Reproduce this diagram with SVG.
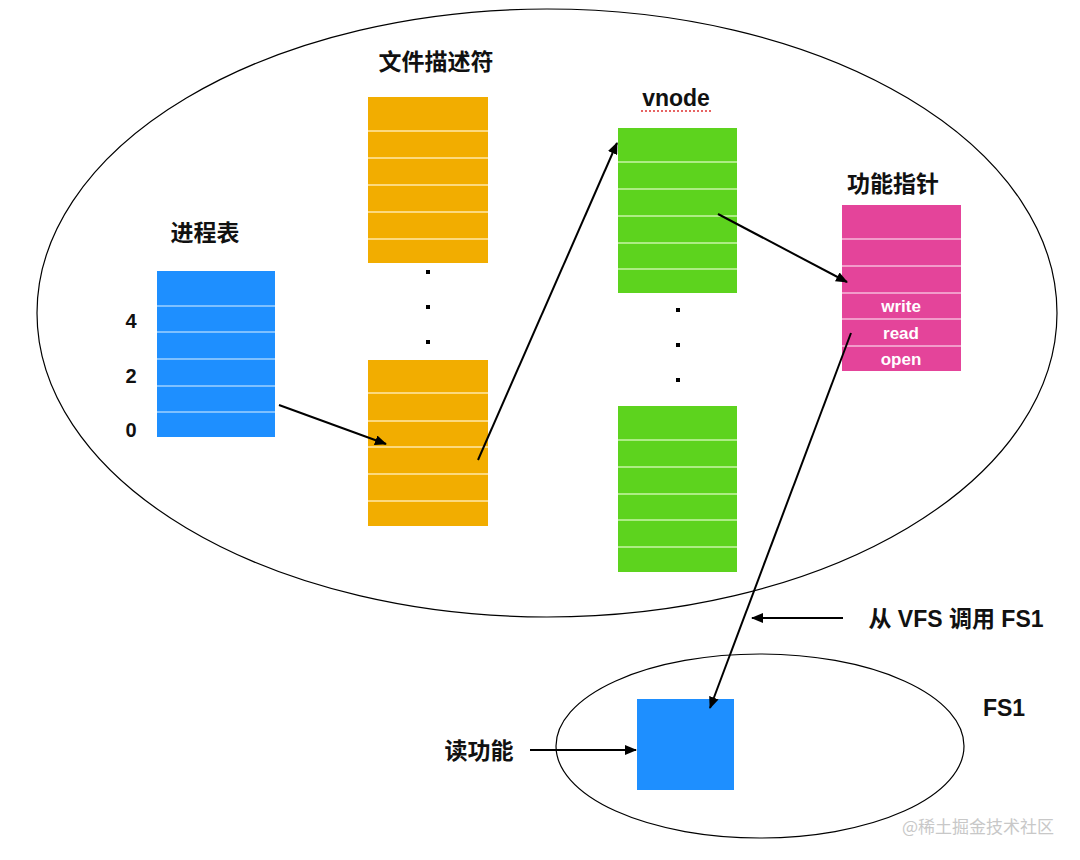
<svg xmlns="http://www.w3.org/2000/svg" width="1080" height="860" viewBox="0 0 1080 860">
<style>
.t{font-family:"Liberation Sans","Noto Sans CJK SC",sans-serif;font-weight:bold;fill:#111;}
.cn{font-size:23px;}
.num{font-size:20px;}
.w{font-family:"Liberation Sans",sans-serif;font-weight:bold;font-size:17px;fill:#fff;}
.sep{stroke-width:1.5;}
.c{stroke:#000;stroke-width:2;fill:none;}
</style>
<defs>
<marker id="ah" viewBox="0 0 12 10" refX="11" refY="5" markerWidth="12" markerHeight="10" markerUnits="userSpaceOnUse" orient="auto">
<path d="M0,0 L12,5 L0,10 Z" fill="#000"/>
</marker>
</defs>
<rect width="1080" height="860" fill="#fff"/>
<g id="outer">
<ellipse cx="547" cy="313" rx="510" ry="304" fill="none" stroke="#000" stroke-width="1.2"/>
</g>
<g id="fs1-ellipse">
<ellipse cx="760" cy="746" rx="204" ry="92" fill="none" stroke="#000" stroke-width="1.2"/>
</g>
<g id="process-table">
<text class="t cn" x="205" y="241" text-anchor="middle">进程表</text>
<rect x="157" y="271" width="118" height="166" fill="#1E8FFF"/>
<g stroke="#9fd0ff" class="sep">
<line x1="157" y1="306" x2="275" y2="306"/><line x1="157" y1="332" x2="275" y2="332"/>
<line x1="157" y1="359" x2="275" y2="359"/><line x1="157" y1="386" x2="275" y2="386"/>
<line x1="157" y1="412" x2="275" y2="412"/>
</g>
<text class="t num" x="131" y="328" text-anchor="middle">4</text>
<text class="t num" x="131" y="383" text-anchor="middle">2</text>
<text class="t num" x="131" y="437" text-anchor="middle">0</text>
</g>
<g id="fd-table">
<text class="t cn" x="436" y="70" text-anchor="middle">文件描述符</text>
<rect x="368" y="97" width="120" height="166" fill="#F2AD00"/>
<g stroke="#ffe9a8" class="sep">
<line x1="368" y1="131" x2="488" y2="131"/><line x1="368" y1="158" x2="488" y2="158"/>
<line x1="368" y1="185" x2="488" y2="185"/><line x1="368" y1="212" x2="488" y2="212"/>
<line x1="368" y1="239" x2="488" y2="239"/>
</g>
<g fill="#000">
<rect x="426" y="270" width="4" height="4"/><rect x="426" y="305" width="4" height="4"/><rect x="426" y="340" width="4" height="4"/>
</g>
<rect x="368" y="360" width="120" height="166" fill="#F2AD00"/>
<g stroke="#ffe9a8" class="sep">
<line x1="368" y1="393" x2="488" y2="393"/><line x1="368" y1="421" x2="488" y2="421"/>
<line x1="368" y1="447" x2="488" y2="447"/><line x1="368" y1="474" x2="488" y2="474"/>
<line x1="368" y1="501" x2="488" y2="501"/>
</g>
</g>
<g id="vnode-table">
<text class="t cn" x="676" y="106" text-anchor="middle">vnode</text>
<line x1="641" y1="111" x2="711" y2="111" stroke="#e03030" stroke-width="1.5" stroke-dasharray="2,2"/>
<rect x="618" y="128" width="119" height="165" fill="#5DD31E"/>
<g stroke="#c8f5a8" class="sep">
<line x1="618" y1="162" x2="737" y2="162"/><line x1="618" y1="189" x2="737" y2="189"/>
<line x1="618" y1="216" x2="737" y2="216"/><line x1="618" y1="243" x2="737" y2="243"/>
<line x1="618" y1="269" x2="737" y2="269"/>
</g>
<g fill="#000">
<rect x="676" y="308" width="4" height="4"/><rect x="676" y="343" width="4" height="4"/><rect x="676" y="378" width="4" height="4"/>
</g>
<rect x="618" y="406" width="119" height="166" fill="#5DD31E"/>
<g stroke="#c8f5a8" class="sep">
<line x1="618" y1="440" x2="737" y2="440"/><line x1="618" y1="467" x2="737" y2="467"/>
<line x1="618" y1="494" x2="737" y2="494"/><line x1="618" y1="520" x2="737" y2="520"/>
<line x1="618" y1="547" x2="737" y2="547"/>
</g>
</g>
<g id="func-pointer">
<text class="t cn" x="893" y="192" text-anchor="middle">功能指针</text>
<rect x="842" y="205" width="119" height="166" fill="#E4449A"/>
<g stroke="#f7b8da" class="sep">
<line x1="842" y1="239" x2="961" y2="239"/><line x1="842" y1="266" x2="961" y2="266"/>
<line x1="842" y1="293" x2="961" y2="293"/><line x1="842" y1="319" x2="961" y2="319"/>
<line x1="842" y1="346" x2="961" y2="346"/>
</g>
<text class="w" x="901" y="312" text-anchor="middle">write</text>
<text class="w" x="901" y="339" text-anchor="middle">read</text>
<text class="w" x="901" y="365" text-anchor="middle">open</text>
</g>
<g id="fs1">
<rect x="637" y="699" width="97" height="91" fill="#1E8FFF"/>
<text class="t cn" x="1004" y="716" text-anchor="middle">FS1</text>
</g>
<g id="labels">
<text class="t cn" x="956" y="627" text-anchor="middle">从 VFS 调用 FS1</text>
<text class="t cn" x="479" y="759" text-anchor="middle">读功能</text>
<text x="978" y="833" text-anchor="middle" font-family="Noto Sans CJK SC,sans-serif" font-size="17" fill="#c8c8c8">@稀土掘金技术社区</text>
</g>
<g id="connectors">
<line class="c" x1="279" y1="405" x2="386" y2="444" marker-end="url(#ah)"/>
<line class="c" x1="478" y1="460" x2="617" y2="143" marker-end="url(#ah)"/>
<line class="c" x1="718" y1="214" x2="847" y2="282" marker-end="url(#ah)"/>
<line class="c" x1="851" y1="333" x2="710" y2="708" marker-end="url(#ah)"/>
<line class="c" x1="843" y1="618" x2="752" y2="618" marker-end="url(#ah)"/>
<line class="c" x1="530" y1="750" x2="636" y2="750" marker-end="url(#ah)"/>
</g>
</svg>
